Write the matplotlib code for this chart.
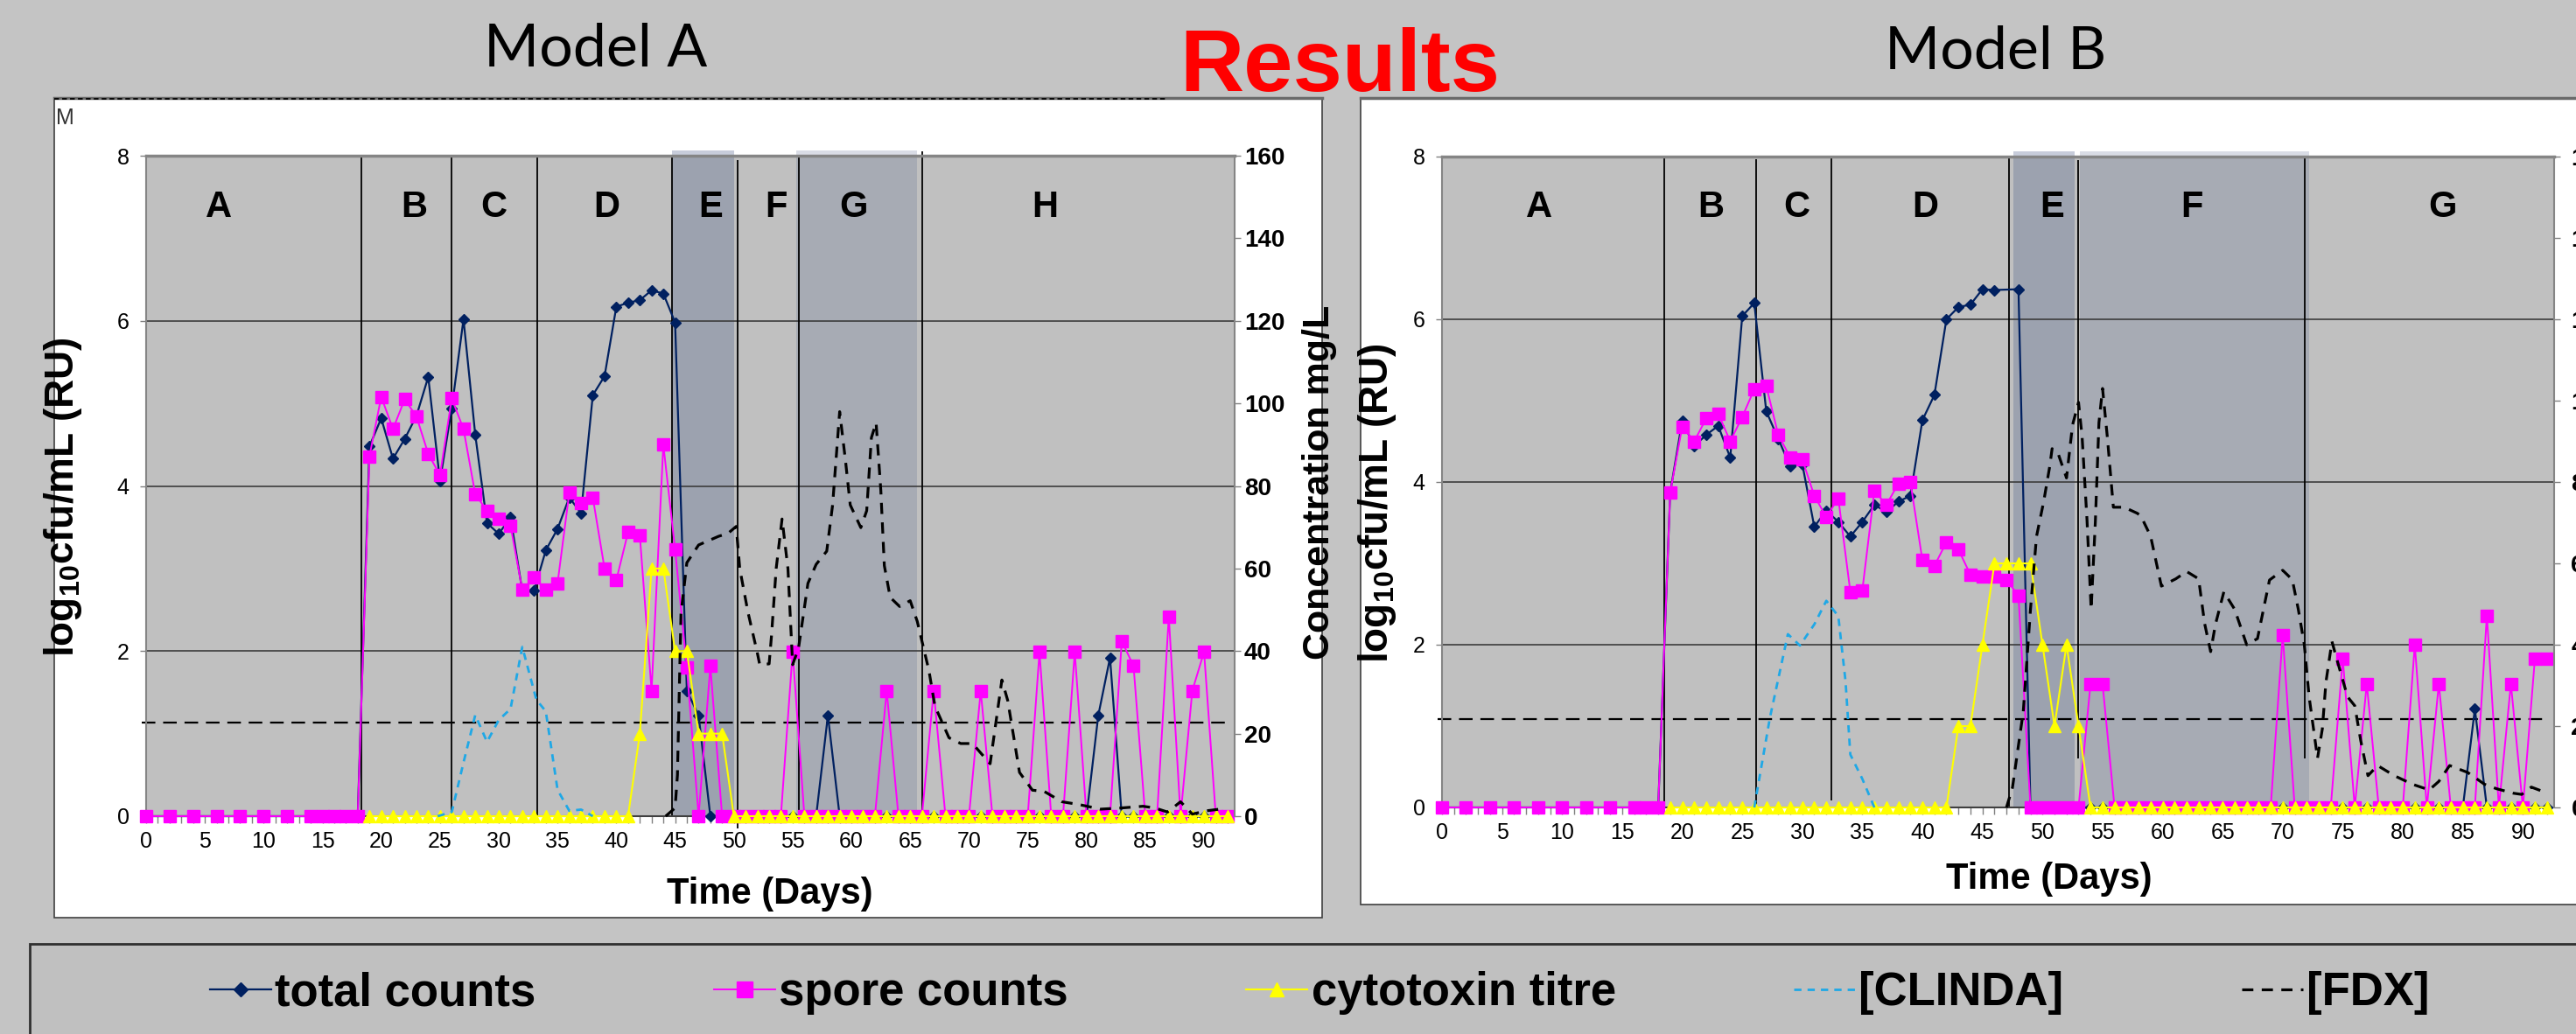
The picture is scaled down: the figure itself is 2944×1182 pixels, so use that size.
import numpy as np
import matplotlib
matplotlib.use("Agg")
import matplotlib.pyplot as plt
from matplotlib.lines import Line2D
from matplotlib.patches import Rectangle
from matplotlib.ticker import MultipleLocator

plt.rcParams["font.family"] = ["Liberation Sans", "DejaVu Sans"]
plt.rcParams["mathtext.fontset"] = "custom"
plt.rcParams["mathtext.rm"] = "Liberation Sans:bold"
plt.rcParams["mathtext.bf"] = "Liberation Sans:bold"

nan = np.nan

# ---------------- data ----------------
daily_days = list(range(19, 93))
pre_days_a = [0, 2, 4, 6, 8, 10, 12, 14, 15, 16, 17, 18]
pre_days_b = [0, 2, 4, 6, 8, 10, 12, 14, 16, 17, 18]

# Model A, log10 cfu/mL, days 19..92
total_a = [4.48, 4.82, 4.33, 4.57, 4.85, 5.32, 4.06, 4.94, 6.02, 4.62,
           3.55, 3.42, 3.62, 2.73, 2.73, 3.22, 3.48, 3.86, 3.67, 5.10,
           5.33, 6.17, 6.22, 6.25, 6.37, 6.33, 5.98, 1.52, 1.22, 0,
           0, 0, 0, 0, 0, 0, 0, 0, 0, 1.22,
           0, 0, 0, 0, 0, 0, 0, 0, 0, 0,
           0, 0, 0, 0, 0, 0, 0, 0, 0, 0,
           0, 0, 1.22, 1.92, 0, 0, 0, 0, 0, 0,
           0, 0, 0, 0]
spore_a = [4.36, 5.08, 4.69, 5.05, 4.84, 4.39, 4.13, 5.06, 4.69, 3.90,
           3.70, 3.60, 3.52, 2.74, 2.89, 2.74, 2.82, 3.92, 3.79, 3.86,
           3.00, 2.86, 3.44, 3.40, 1.52, 4.50, 3.23, 1.80, 0, 1.82,
           0, 0, 0, 0, 0, 0, 1.99, 0, 0, 0,
           0, 0, 0, 0, 1.52, 0, 0, 0, 1.52, 0,
           0, 0, 1.52, 0, 0, 0, 0, 1.99, 0, 0,
           1.99, 0, 0, 0, 2.12, 1.82, 0, 0, 2.42, 0,
           1.52, 1.99, 0, 0]
toxin_a = [0, 0, 0, 0, 0, 0, 0, 0, 0, 0,
           0, 0, 0, 0, 0, 0, 0, 0, 0, 0,
           0, 0, 0, 1, 3, 3, 2, 2, 1, 1,
           1, 0, 0, 0, 0, 0, 0, 0, 0, 0,
           0, 0, 0, 0, 0, 0, 0, 0, 0, 0,
           0, 0, 0, 0, 0, 0, 0, 0, 0, 0,
           0, 0, 0, 0, 0, 0, 0, 0, 0, 0,
           0, 0, 0, 0]
clinda_a_days = [24.8, 26, 27, 28, 29, 30, 31, 32, 33.2, 34, 35, 36, 37, 38]
clinda_a = [0, 1, 13, 24.5, 18, 23.3, 26, 41, 28.2, 25.4, 6.4, 1.3, 1.6, 0]
fdx_a_days = [44.2, 45.0, 45.2, 45.5, 46.0, 47.0, 48.7, 49.5, 50.2, 50.5,
              51.2, 52.0, 52.2, 53.0, 53.2, 53.6, 54.1, 54.6, 55.0, 55.5,
              56.3, 57.0, 57.9, 58.4, 59.0, 59.5, 59.9, 60.8, 61.3, 61.7,
              62.1, 62.5, 62.8, 63.3, 64.1, 65.0, 65.6, 66.6, 67.1, 68.3,
              69.3, 70.3, 71.8, 72.8, 73.3, 74.3, 75.4, 76.4, 77.9, 79.4,
              81.2, 83.0, 84.8, 85.8, 86.9, 88.0, 89.0, 90.2, 91.6]
fdx_a = [0, 2, 10, 49, 61.4, 65.7, 67.8, 68.5, 70.2, 60,
         49.4, 39.5, 36.7, 36.9, 43.7, 60, 72, 60, 36.7, 40.7,
         56.4, 61, 64.2, 75.4, 98, 86, 75.4, 69.9, 74, 91.7,
         95.3, 79, 60.7, 53, 50.8, 52.2, 47.2, 35.2, 26.7, 19,
         17.6, 17.6, 12.7, 33, 28, 10.6, 6.3, 6, 3.5, 2.8,
         1.7, 2, 2.4, 2, 1, 3.5, 0.5, 1.3, 1.8]
threshold_a = 1.13
bounds_a = [18.3, 26.0, 33.3, 44.75, 50.3, 55.5, 66.0]
bounds_a_bottom = [0, 0, 0, 0, -0.15, 0, 0]
bounds_a_top = [8, 8, 8, 8, 7.95, 8, 8.05]
spans_a = [(44.75, 50.0), (55.3, 65.6)]
phases_a = ["A", "B", "C", "D", "E", "F", "G", "H"]
phase_x_a = [6.2, 22.8, 29.6, 39.2, 48.0, 53.6, 60.2, 76.5]

# Model B
total_b = [3.87, 4.75, 4.44, 4.58, 4.69, 4.30, 6.04, 6.20, 4.87, 4.53,
           4.19, 4.22, 3.45, 3.65, 3.51, 3.33, 3.51, 3.72, 3.63, 3.76,
           3.83, 4.76, 5.07, 6.00, 6.15, 6.18, 6.37, 6.36, nan, 6.37,
           0, 0, 0, 0, 0, 0, 0, 0, 0, 0,
           0, 0, 0, 0, 0, 0, 0, 0, 0, 0,
           0, 0, 0, 0, 0, 0, 0, 0, 0, 0,
           0, 0, 0, 0, 0, 0, 0, 1.21, 0, 0,
           0, 0, 0, 0]
spore_b = [3.87, 4.68, 4.50, 4.78, 4.84, 4.50, 4.80, 5.14, 5.18, 4.58,
           4.30, 4.28, 3.83, 3.57, 3.80, 2.65, 2.67, 3.89, 3.72, 3.98,
           4.00, 3.04, 2.97, 3.26, 3.17, 2.86, 2.84, 2.84, 2.80, 2.60,
           0, 0, 0, 0, 0, 1.52, 1.52, 0, 0, 0,
           0, 0, 0, 0, 0, 0, 0, 0, 0, 0,
           0, 2.12, 0, 0, 0, 0, 1.83, 0, 1.52, 0,
           0, 0, 2.00, 0, 1.52, 0, 0, 0, 2.36, 0,
           1.52, 0, 1.83, 1.83]
toxin_b = [0, 0, 0, 0, 0, 0, 0, 0, 0, 0,
           0, 0, 0, 0, 0, 0, 0, 0, 0, 0,
           0, 0, 0, 0, 1, 1, 2, 3, 3, 3,
           3, 2, 1, 2, 1, 0, 0, 0, 0, 0,
           0, 0, 0, 0, 0, 0, 0, 0, 0, 0,
           0, 0, 0, 0, 0, 0, 0, 0, 0, 0,
           0, 0, 0, 0, 0, 0, 0, 0, 0, 0,
           0, 0, 0, 0]
clinda_b_days = [26, 27.3, 28.8, 29.8, 31, 32, 33, 33.6, 34, 35, 36]
clinda_b = [0, 22, 42.6, 39.8, 45, 50.8, 47, 31, 13, 7, 0]
fdx_b_days = [47.0, 47.5, 48.4, 49.0, 49.5, 50.1, 50.6, 50.8, 51.3, 52.0,
              52.5, 53.0, 53.3, 53.7, 54.05, 54.4, 54.7, 55.0, 55.4, 55.9,
              56.8, 57.9, 58.2, 59.0, 59.9, 61.1, 62.0, 63.0, 63.5, 64.0,
              64.4, 65.1, 66.0, 67.0, 67.9, 68.9, 70.0, 70.8, 71.3, 71.8,
              72.2, 72.9, 73.3, 73.6, 74.1, 74.5, 75.4, 76.0, 76.5, 77.1,
              77.9, 79.3, 80.8, 82.2, 83.0, 83.9, 85.4, 86.8, 87.8, 89.2,
              89.9, 90.7, 91.6]
fdx_b = [0, 4.9, 23.6, 48.7, 66.6, 75.2, 83.8, 88.2, 87, 81,
         94, 99.6, 91, 71, 48.7, 70.2, 94.6, 103, 91, 73.8,
         73.8, 72.3, 71.6, 66.7, 54.4, 56.2, 58, 56.2, 45.2, 38.3,
         45, 53, 48.7, 40, 41.5, 55.9, 58.3, 56, 48.7, 40,
         27.2, 12.1, 19.3, 30.8, 40.8, 36.5, 27.2, 25, 16.4, 7.8,
         10.3, 7.8, 5.7, 4.3, 6.4, 10.3, 8.6, 5.7, 4.6, 3.5,
         3.2, 5, 4]
threshold_b = 1.09
bounds_b = [18.5, 26.15, 32.4, 47.2, 53.0, 71.8]
bounds_b_bottom = [0, 0, 0.09, 0, 0.6, 0.6]
bounds_b_top = [8, 7.97, 8, 8, 7.96, 8]
spans_b = [(47.56, 52.7), (53.1, 72.2)]
phases_b = ["A", "B", "C", "D", "E", "F", "G"]
phase_x_b = [8.1, 22.4, 29.5, 40.2, 50.8, 62.4, 83.3]

series_labels = ["total counts", "spore counts", "cytotoxin titre", "[CLINDA]", "[FDX]"]

W, H = 2944, 1182


def fx(px):
    return px / W


def fy(py):
    return 1 - py / H


def drop_nan(x, y):
    x = np.asarray(x, float)
    y = np.asarray(y, float)
    ok = ~np.isnan(y)
    return x[ok], y[ok]


def draw_panel(ax, pre_days, total, spore, toxin, cl_days, cl, fdx_days, fdx,
               thr, bounds, b_bot, b_top, spans, phases, phase_x, right_pad):
    ax.set_facecolor("#C0C0C0")
    ax.set_xlim(0, 92.6)
    ax.set_ylim(0, 8)

    # shaded treatment periods (poke a little above the plot area)
    for (x0, x1), a in zip(spans, [0.32, 0.22]):
        sp = ax.axvspan(x0, x1, ymin=0, ymax=1.008, facecolor=(0.32, 0.39, 0.55),
                        alpha=a, lw=0, zorder=0.5)
        sp.set_clip_on(False)

    ax.grid(axis="y", color="#3c3c3c", lw=1.2, zorder=1)
    ax.vlines(bounds, b_bot, b_top, colors="black", lw=1.3, zorder=1.6, clip_on=False)

    t_days = np.array(pre_days + daily_days, float)
    pre0 = [0] * len(pre_days)
    h_tot, = ax.plot(*drop_nan(t_days, pre0 + total), color="#002060", lw=1.6,
                     marker="D", ms=6.5, clip_on=False, zorder=3)
    h_spo, = ax.plot(*drop_nan(t_days, pre0 + spore), color="#FF00FF", lw=1.4,
                     marker="s", ms=10, clip_on=False, zorder=3.1)
    h_tox, = ax.plot(daily_days, toxin, color="#FFFF00", lw=1.5,
                     marker="^", ms=9.5, clip_on=False, zorder=3.2)
    ax.hlines(thr, -0.4, 91.8, colors="black", lw=1.6, linestyles=(0, (7, 4)),
              zorder=2.5, clip_on=False)

    for x, s in zip(phase_x, phases):
        ax.text(x, 7.38, s, ha="center", va="center", fontsize=30,
                fontweight="bold", zorder=4)

    ax.xaxis.set_major_locator(MultipleLocator(5))
    ax.xaxis.set_minor_locator(MultipleLocator(1))
    ax.set_yticks([0, 2, 4, 6, 8])
    ax.tick_params(axis="x", which="both", direction="out", length=6,
                   color="#808080", width=1, pad=6, labelsize=18)
    ax.tick_params(axis="y", direction="out", length=5, color="#808080",
                   width=1, pad=9, labelsize=18)
    ax.spines["top"].set_color("#858585")
    ax.spines["top"].set_linewidth(2.5)
    ax.spines["left"].set_color("#858585")
    ax.spines["left"].set_linewidth(1.5)
    ax.spines["bottom"].set_color("#404040")
    ax.spines["bottom"].set_linewidth(1.5)
    ax.spines["right"].set_visible(False)

    ax.set_xlabel("Time (Days)", fontsize=30, fontweight="bold")
    ax.set_ylabel("log$_{10}$cfu/mL (RU)", fontsize=33, fontweight="bold")

    ax2 = ax.twinx()
    ax2.set_ylim(0, 160)
    ax2.set_yticks(range(0, 161, 20), [str(v) for v in range(0, 161, 20)],
                   fontweight="bold", fontsize=20)
    ax2.tick_params(axis="y", direction="out", length=5, color="#808080",
                    width=1, pad=right_pad)
    for side in ("top", "bottom", "left"):
        ax2.spines[side].set_visible(False)
    ax2.spines["right"].set_color("#858585")
    ax2.spines["right"].set_linewidth(1.5)
    h_cl, = ax2.plot(cl_days, cl, color="#1FA8E6", lw=2.0, dashes=(3, 2.5),
                     clip_on=False, zorder=3)
    h_fdx, = ax2.plot(fdx_days, fdx, color="black", lw=2.3, dashes=(4, 3),
                      clip_on=False, zorder=3.1)
    ax2.set_ylabel("Concentration mg/L", fontsize=31, fontweight="bold")
    return ax2, [h_tot, h_spo, h_tox, h_cl, h_fdx]


fig = plt.figure(figsize=(W / 100, H / 100), dpi=100, facecolor="#C4C4C4")

# white chart panels and the legend strip
fig.add_artist(Rectangle((fx(62), fy(1049)), fx(1511) - fx(62), fy(112) - fy(1049),
                         transform=fig.transFigure, facecolor="white",
                         edgecolor="#404040", lw=1.2, zorder=-2))
fig.add_artist(Line2D([fx(62), fx(1511)], [fy(112), fy(112)], color="#6a6a6a", lw=2.5,
                      zorder=-1))
fig.add_artist(Line2D([fx(62), fx(1333)], [fy(113), fy(113)], color="black", lw=1.3,
                      dashes=(3, 2), zorder=-1))
fig.add_artist(Rectangle((fx(1555), fy(1034)), 0.5, fy(112) - fy(1034),
                         transform=fig.transFigure, facecolor="white",
                         edgecolor="#404040", lw=1.2, zorder=-2))
fig.add_artist(Line2D([fx(1555), 1.0], [fy(112), fy(112)], color="#6a6a6a", lw=2.5,
                      zorder=-1))
fig.add_artist(Rectangle((fx(34), -0.05), 1.0, fy(1079) + 0.05,
                         transform=fig.transFigure, facecolor="#C0C0C0",
                         edgecolor="#303030", lw=2, zorder=-2))
fig.text(fx(64), fy(142), "M", fontsize=18, color="#333333")

axA = fig.add_axes([fx(167), fy(933), fx(1411) - fx(167), fy(178) - fy(933)])
axA2, handles = draw_panel(axA, pre_days_a, total_a, spore_a, toxin_a,
                           clinda_a_days, clinda_a, fdx_a_days, fdx_a, threshold_a,
                           bounds_a, bounds_a_bottom, bounds_a_top, spans_a,
                           phases_a, phase_x_a, right_pad=3)
axA.yaxis.set_label_coords(-0.057, 0.483)
axA.xaxis.set_label_coords(0.573, -0.092)
axA2.yaxis.set_label_coords(1.062, 0.505)

axB = fig.add_axes([fx(1648), fy(923), fx(2919) - fx(1648), fy(179) - fy(923)])
axB2, _ = draw_panel(axB, pre_days_b, total_b, spore_b, toxin_b,
                     clinda_b_days, clinda_b, fdx_b_days, fdx_b, threshold_b,
                     bounds_b, bounds_b_bottom, bounds_b_top, spans_b,
                     phases_b, phase_x_b, right_pad=9)
axB.yaxis.set_label_coords(-0.039, 0.468)
axB.xaxis.set_label_coords(0.546, -0.084)
axB2.yaxis.set_label_coords(1.07, 0.5)

# titles
fig.text(fx(681), fy(76), "Model A", ha="center", va="baseline", fontsize=49,
         family=["Lato", "DejaVu Sans"])
fig.text(fx(2281), fy(79), "Model B", ha="center", va="baseline", fontsize=49,
         family=["Lato", "DejaVu Sans"])
fig.text(fx(1531), fy(104), "Results", ha="center", va="baseline", fontsize=73,
         fontweight="bold", color="#FF0000")

fig.legend(handles, series_labels, loc="center left",
           bbox_to_anchor=(fx(240), fy(1135)), ncol=5, frameon=False,
           prop={"weight": "bold", "size": 38}, handlelength=1.33,
           handletextpad=0.08, columnspacing=3.85, borderpad=0,
           borderaxespad=0, markerscale=1.25)

fig.savefig("out.png", dpi=100, facecolor=fig.get_facecolor())
